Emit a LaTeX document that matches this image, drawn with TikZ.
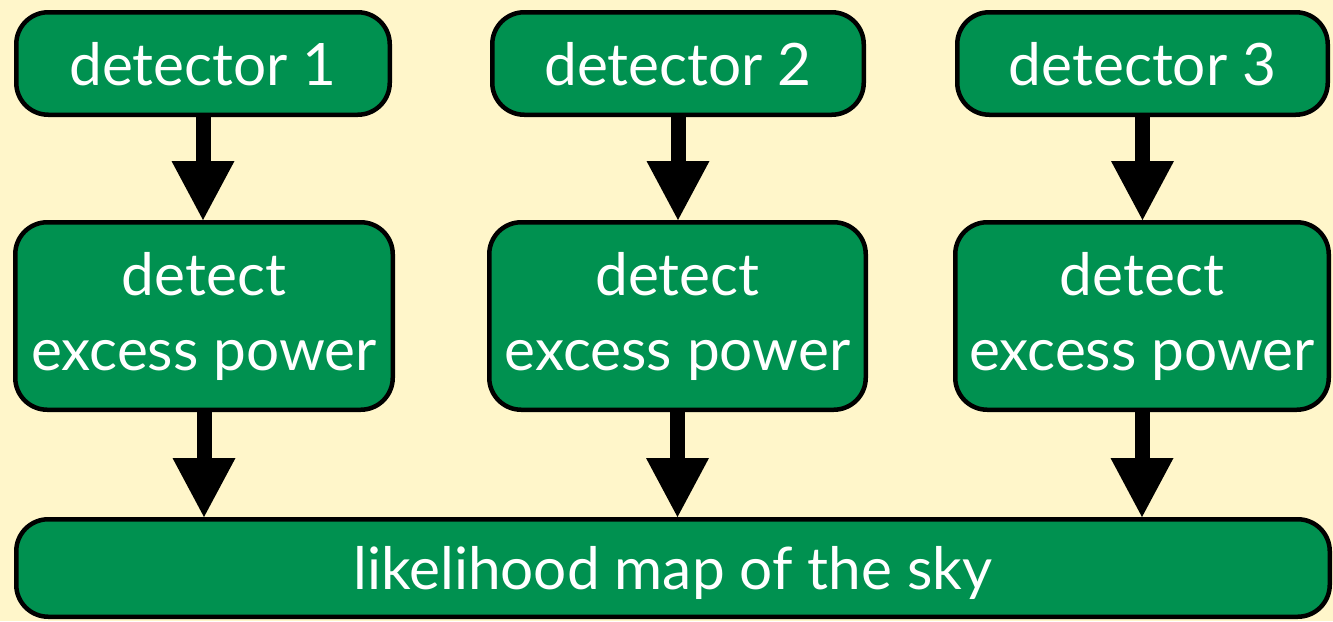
\documentclass[tikz,border=0pt]{standalone}
\usepackage{fontspec}
\setmainfont{Lato}
\usetikzlibrary{arrows.meta}
\definecolor{bgcream}{HTML}{FFF6CA}
\definecolor{boxgreen}{HTML}{009150}
\tikzset{
  flowbox/.style={draw=black, line width=4.5pt, fill=boxgreen, rounded corners=32pt,
    text=white, align=center, inner sep=0pt,
    font=\fontsize{58.5}{75}\selectfont},
  flowarrow/.style={line width=15pt, draw=black,
    -{Triangle[width=63pt,length=59pt,line width=0pt]}}
}
\begin{document}
\begin{tikzpicture}[x=1pt,y=1pt]
\fill[bgcream] (0,0) rectangle (1333,-621);
\useasboundingbox (0,0) rectangle (1333,-621);
% top row
\node[flowbox, minimum width=373.5pt, minimum height=102.5pt, text height=43pt, text depth=-4pt] (d1) at (203,-63.5) {detector 1};
\node[flowbox, minimum width=371.5pt, minimum height=102.5pt, text height=43pt, text depth=-4pt] (d2) at (678,-63.5) {detector 2};
\node[flowbox, minimum width=370.5pt, minimum height=102.5pt, text height=43pt, text depth=-4pt] (d3) at (1142.5,-63.5) {detector 3};
% middle row
\node[flowbox, minimum width=377.5pt, minimum height=187.5pt] (e1) at (204,-316) {detect\\excess power};
\node[flowbox, minimum width=376.5pt, minimum height=187.5pt] (e2) at (677.5,-316) {detect\\excess power};
\node[flowbox, minimum width=373.5pt, minimum height=187.5pt] (e3) at (1142,-316) {detect\\excess power};
% bottom
\node[flowbox, minimum width=1313.5pt, minimum height=97.5pt, text height=43pt, text depth=-7pt] (sky) at (673,-568) {likelihood map of the sky};
% arrows
\draw[flowarrow] (d1.south) -- (d1.south |- e1.north);
\draw[flowarrow] (d2.south) -- (d2.south |- e2.north);
\draw[flowarrow] (d3.south) -- (d3.south |- e3.north);
\draw[flowarrow] (e1.south) -- (e1.south |- sky.north);
\draw[flowarrow] (e2.south) -- (e2.south |- sky.north);
\draw[flowarrow] (e3.south) -- (e3.south |- sky.north);
\end{tikzpicture}
\end{document}
